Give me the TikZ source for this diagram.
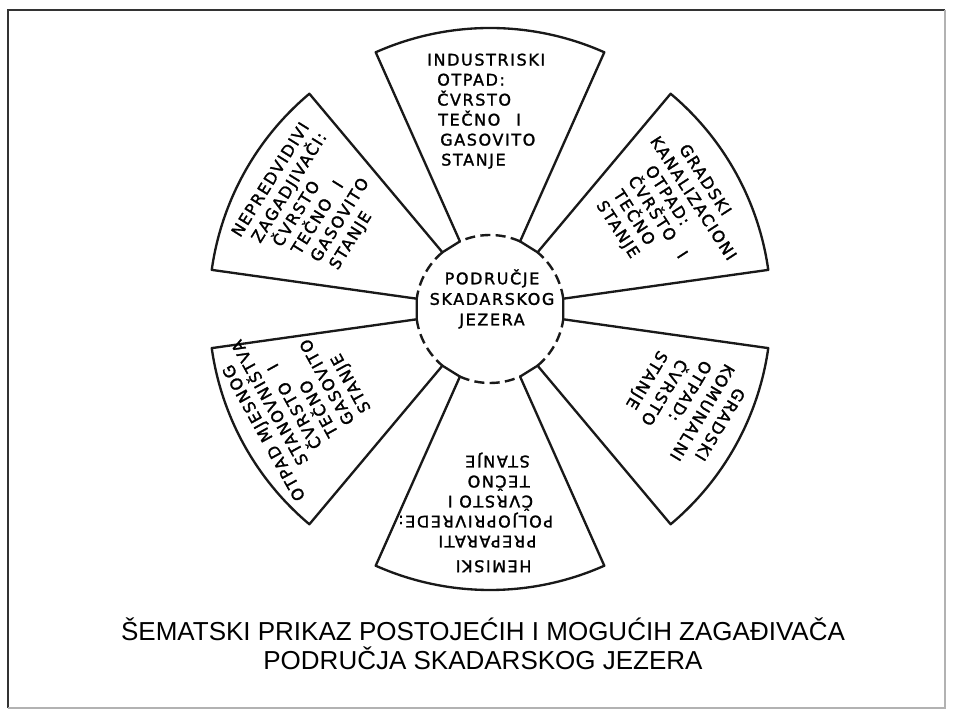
\documentclass[tikz,border=0pt]{standalone}
\usepackage{fontspec}
\setmainfont{Liberation Sans}
\newfontfamily\lettr[LetterSpace=10,FakeBold=1.6]{DejaVu Sans}
\begin{document}
\begin{tikzpicture}[x=0.75pt,y=0.75pt,
  sline/.style={line width=1.75pt, line join=round, line cap=round, black!90},
  dline/.style={line width=1.8pt, dash pattern=on 7.5pt off 4pt, black!90},
  sect/.style={font=\lettr\fontsize{12}{15}\selectfont, align=left, inner sep=0pt, anchor=north west},
  ttl/.style={font=\fontsize{19.5}{23}\selectfont, inner sep=0pt, anchor=base}
  ]
\useasboundingbox (0,0) rectangle (953,714);
\fill[white] (0,0) rectangle (953,714);
% frame
\draw[line width=1.3pt, black!80] (8,6) -- (8,704) -- (945,704);
\draw[line width=1pt, black!30] (945,704) -- (945,6) -- (8,6);
% wheel
\coordinate (C) at (490,405);
\begin{scope}[shift={(C)}]
\foreach \a/\b in {8/50,66/114,130/172,188/230,246/294,310/352} {
  \draw[sline] (\a:74) -- (\a:281) arc[start angle=\a, end angle=\b, radius=281] -- (\b:74) -- ({\b+16}:74);
  \draw[dline] (\a:74) arc[start angle=\a, end angle=\b, radius=74];
}
\end{scope}
% centre
\node[font=\lettr\fontsize{12}{15.4}\selectfont, align=center, inner sep=0pt] (centre) at (492,415) {PODRUČJE\\SKADARSKOG\\JEZERA};
% top
\node[sect] (top) at (427,660.6) {INDUSTRISKI\\\hspace*{7.5pt}OTPAD:\\\hspace*{7.5pt}ČVRSTO\\\hspace*{8.25pt}TEČNO\hspace{1em}I\\\hspace*{9.75pt}GASOVITO\\\hspace*{10.5pt}STANJE};
% upper right
\node[sect, rotate=-57] (ur) at (676.5,590.7) {\hspace*{16.7pt}GRADSKI\\KANALIZACIONI\\\hspace*{16.2pt}OTPAD:\\\hspace*{15.8pt}ČVRŠTO\hspace{1em}I\\\hspace*{18.5pt}TEČNO\\\hspace*{18.4pt}STANJE};
% lower right
\node[sect, rotate=-121, font=\lettr\fontsize{12}{16}\selectfont] (lr) at (754.3,334.1) {\hspace*{11.3pt}GRADSKI\\KOMUNALNI\\\hspace*{6.5pt}OTPAD:\\\hspace*{15pt}ČVRSTO\\\hspace*{17.3pt}STANJE};
% bottom
\node[sect, rotate=180] (bot) at (553.3,141.4) {\hspace*{16.2pt}HEMISKI\\[3.5pt]\hspace*{12.5pt}PREPARATI\\POLJOPRIVREDE:\\\hspace*{15pt}ČVRSTO I\\\hspace*{17.5pt}TEČNO\\\hspace*{17.5pt}STANJE};
% lower left
\node[sect, rotate=119] (ll) at (295.2,210.8) {OTPAD MJESNOG\\\hspace*{22.5pt}STANOVNIŠTVA\\\hspace*{28pt}ČVRSTO\hspace{1em}I\\\hspace*{30pt}TEČNO\\\hspace*{32pt}GASOVITO\\\hspace*{34pt}STANJE};
% upper left
\node[sect, rotate=58] (ul) at (230,482.1) {NEPREDVIDIVI\\\hspace*{4.2pt}ZAGADJIVAČI:\\\hspace*{10pt}ČVRSTO\\\hspace*{12.7pt}TEČNO\hspace{1em}I\\\hspace*{15.4pt}GASOVITO\\\hspace*{18pt}STANJE};
% title
\node[ttl] (title1) at (483,74) {ŠEMATSKI PRIKAZ POSTOJEĆIH I MOGUĆIH ZAGAĐIVAČA};
\node[ttl] (title2) at (483,44.7) {PODRUČJA SKADARSKOG JEZERA};
\end{tikzpicture}
\end{document}
